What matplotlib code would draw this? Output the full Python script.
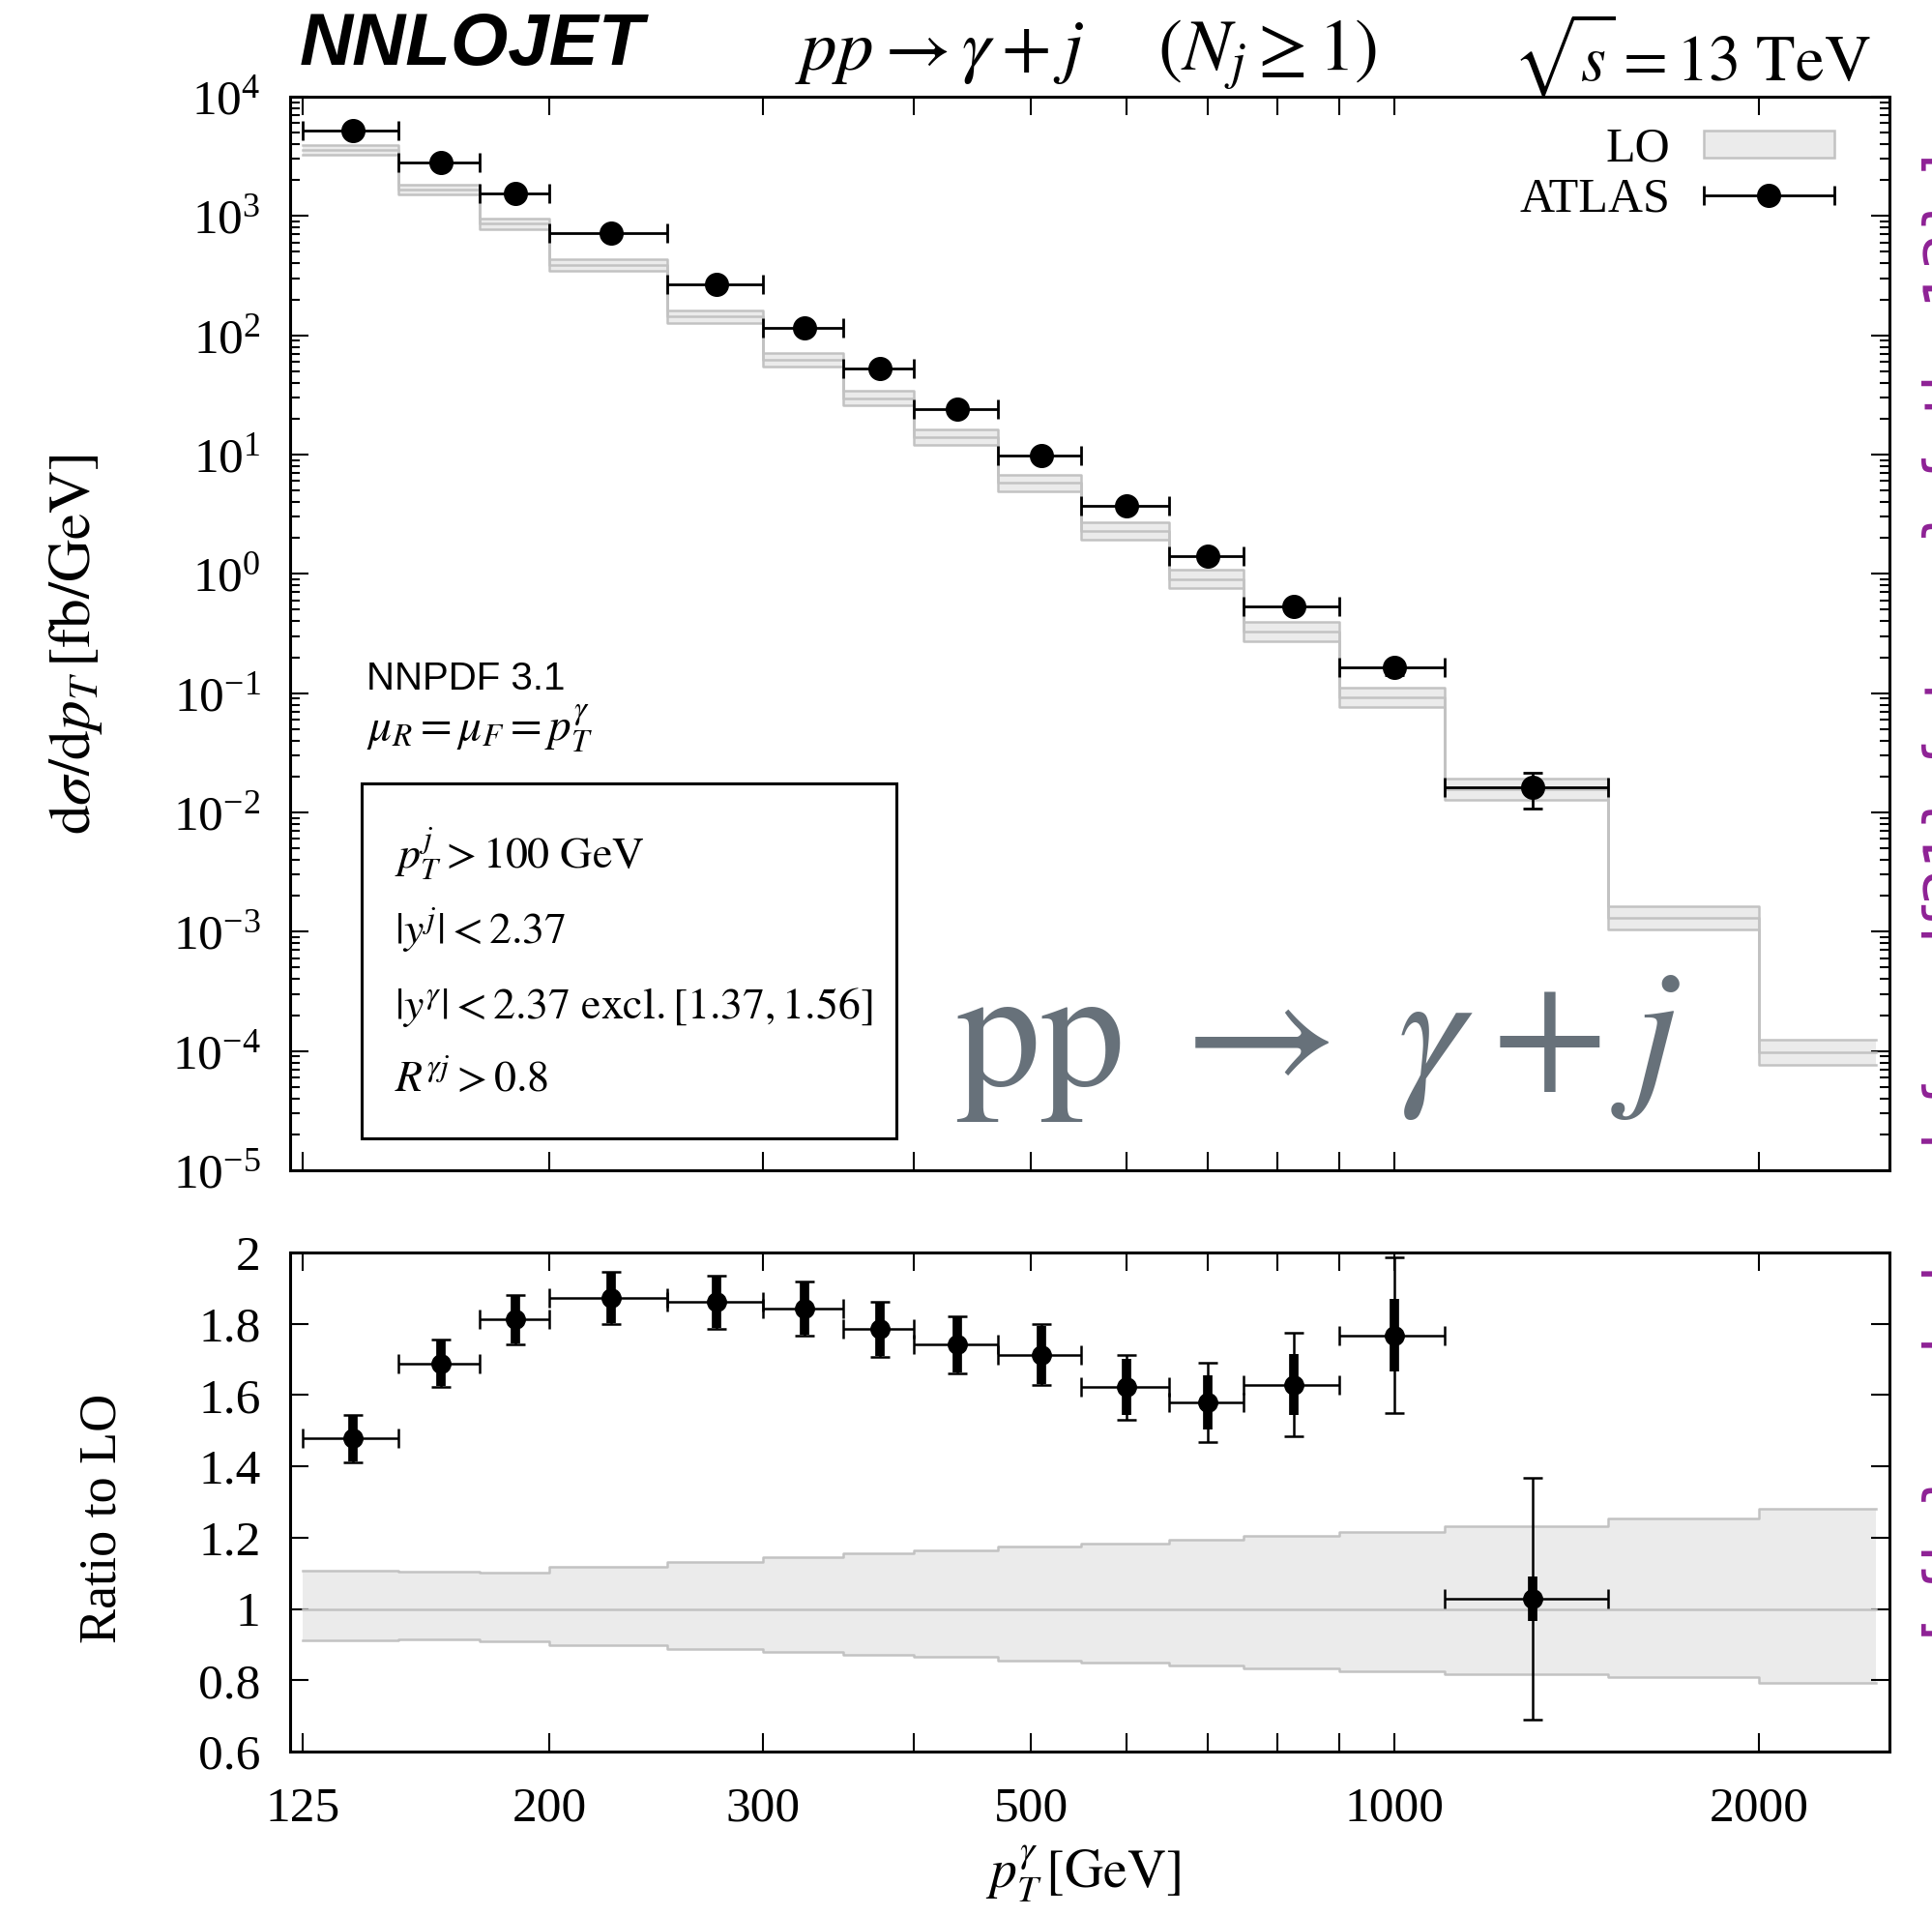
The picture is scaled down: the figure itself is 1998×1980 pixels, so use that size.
import numpy as np
import matplotlib
matplotlib.use("Agg")
import matplotlib.pyplot as plt
from matplotlib.patches import Patch, Rectangle
from matplotlib.legend_handler import HandlerErrorbar
from matplotlib.ticker import FixedLocator, FixedFormatter, LogLocator, NullFormatter, FuncFormatter, NullLocator

plt.rcParams['font.family'] = ['Liberation Serif', 'DejaVu Serif']
plt.rcParams['mathtext.fontset'] = 'stix'

# bins in pT(photon) [GeV]
bin_edges = [125, 150, 175, 200, 250, 300, 350, 400, 470, 550, 650, 750, 900, 1100, 1500, 2000, 2500]

# LO prediction (central) in fb/GeV and scale band as ratio to central
lo_central = [3550, 1658, 861, 387, 143.5, 62.4, 29.7, 13.9, 5.78, 2.28, 0.899, 0.329,
              0.0922, 0.01574, 1.30e-3, 9.7e-5]
lo_up = [1.108, 1.105, 1.102, 1.117, 1.133, 1.145, 1.156, 1.163, 1.174, 1.184, 1.195, 1.206,
         1.216, 1.232, 1.253, 1.280]
lo_down = [0.911, 0.914, 0.908, 0.898, 0.888, 0.880, 0.872, 0.865, 0.855, 0.849, 0.842, 0.834,
           0.826, 0.817, 0.809, 0.792]

# ATLAS data (first 14 bins), relative uncertainties in %
atlas_xsec = [5250, 2800, 1560, 725, 267, 115, 53, 24.2, 9.9, 3.7, 1.42, 0.536, 0.163, 0.0162]
atlas_tot = [4.5, 3.9, 3.8, 3.9, 4.0, 4.1, 4.3, 4.6, 5.0, 5.6, 7.0, 8.9, 12.3, 33.0]
atlas_sys = [4.4, 3.8, 3.7, 3.8, 3.9, 4.0, 4.2, 4.5, 4.8, 4.8, 4.8, 5.2, 5.8, 6.0]

xticks = [125, 200, 300, 400, 500, 600, 700, 800, 900, 1000, 2000]
xticklabels = ['125', '200', '300', '', '500', '', '', '', '', '1000', '2000']

band_fill = '#ebebeb'
band_line = '#c2c2c2'
purple = '#8e2195'

edges = np.array(bin_edges, dtype=float)
lo = np.array(lo_central)
up = lo * np.array(lo_up)
dn = lo * np.array(lo_down)
nd = len(atlas_xsec)
xc = 0.5 * (edges[:nd] + edges[1:nd + 1])
xerr = [xc - edges[:nd], edges[1:nd + 1] - xc]
data = np.array(atlas_xsec)
ratio = data / lo[:nd]
tot = np.array(atlas_tot) / 100.0
sys = np.array(atlas_sys) / 100.0


def stepvals(v):
    return np.append(v, v[-1])


W, H = 1999, 1980
fig = plt.figure(figsize=(W / 100, H / 100), dpi=100)
ax = fig.add_axes([300 / W, 1 - 1210 / H, 1654 / W, 1110 / H])
axr = fig.add_axes([300 / W, 1 - 1811 / H, 1654 / W, 516 / H])

# ---- main panel
ax.fill_between(edges, stepvals(dn), stepvals(up), step='post', color=band_fill, lw=0)
for v in (up, lo, dn):
    ax.step(edges, stepvals(v), where='post', color=band_line, lw=1.8)

ax.errorbar(xc, data, yerr=data * tot, fmt='none', ecolor='k', elinewidth=2,
            capsize=7, capthick=2)
eb = ax.errorbar(xc, data, xerr=xerr, fmt='o', color='k', ms=17, elinewidth=2,
                 capsize=7, capthick=2, label='ATLAS')

ax.set_yscale('log')
ax.set_ylim(1e-5, 1e4)
ax.yaxis.set_major_locator(LogLocator(base=10, numticks=20))
ax.yaxis.set_minor_locator(LogLocator(base=10, subs=np.arange(2, 10), numticks=200))
ax.yaxis.set_minor_formatter(NullFormatter())

# ---- ratio panel
rup = np.array(lo_up)
rdn = np.array(lo_down)
axr.fill_between(edges, stepvals(rdn), stepvals(rup), step='post', color=band_fill, lw=0)
for v in (rup, np.ones_like(rup), rdn):
    axr.step(edges, stepvals(v), where='post', color=band_line, lw=1.8)

axr.errorbar(xc, ratio, xerr=xerr, yerr=ratio * tot, fmt='none', ecolor='k',
             elinewidth=1.8, capsize=7, capthick=1.8)
axr.errorbar(xc, ratio, yerr=ratio * sys, fmt='o', color='k', ms=14, elinewidth=7,
             capsize=0)
axr.set_ylim(0.6, 2.0)
axr.yaxis.set_major_locator(FixedLocator(np.arange(0.6, 2.01, 0.2)))
axr.yaxis.set_major_formatter(FuncFormatter(lambda v, p: '%g' % round(v, 1)))

for a in (ax, axr):
    a.set_xscale('log')
    a.set_xlim(122, 2565)
    a.xaxis.set_major_locator(FixedLocator(xticks))
    a.xaxis.set_major_formatter(FixedFormatter(xticklabels))
    a.xaxis.set_minor_locator(NullLocator())
    a.tick_params(which='major', direction='in', top=True, right=True, length=14,
                  width=1.5, labelsize=37, pad=22)
    a.tick_params(which='minor', direction='in', top=True, right=True, length=7,
                  width=1.5)
    for s in a.spines.values():
        s.set_linewidth(2.2)
ax.tick_params(labelbottom=False)
axr.tick_params(axis='x', pad=26)

# legend
lo_patch = Patch(facecolor=band_fill, edgecolor=band_line, lw=1.8)
ax.legend([lo_patch, eb], ['LO', 'ATLAS'], loc='upper right', frameon=False,
          bbox_to_anchor=(0.9655, 0.972), borderaxespad=0, borderpad=0,
          markerfirst=False, fontsize=36, handlelength=2.7, handleheight=0.5,
          labelspacing=0.1, handletextpad=0.7,
          handler_map={eb: HandlerErrorbar(xerr_size=1.35)})

# annotations in the main panel
ax.text(0.0478, 0.4477, 'NNPDF 3.1', transform=ax.transAxes, family='Liberation Sans',
        fontsize=29, va='baseline')
ax.text(0.0478, 0.401, r'$\mu_R = \mu_F = p_T^\gamma$', transform=ax.transAxes,
        fontsize=34, va='baseline')
ax.add_patch(Rectangle((0.0447, 0.0297), 0.3344, 0.3307, transform=ax.transAxes,
                       fill=False, lw=2.2, ec='k'))
cuts = [r'$p_T^j > 100\ \mathrm{GeV}$', r'$|y^j| < 2.37$',
        r'$|y^\gamma| < 2.37\ \mathrm{excl.}[1.37, 1.56]$', r'$R^{\gamma j} > 0.8$']
for txt, yy in zip(cuts, [0.2811, 0.2117, 0.1414, 0.0739]):
    ax.text(0.0653, yy, txt, transform=ax.transAxes, fontsize=33, va='baseline')
ax.text(0.416, 0.0793, r'$\mathrm{pp}\;\rightarrow\;\gamma + j$', transform=ax.transAxes,
        fontsize=126, va='baseline', color='#67717a')

# header and axis labels
fig.text(310 / W, 1 - 48 / H, 'NNLOJET', family='Liberation Sans', weight='bold',
         style='italic', fontsize=55, va='center', ha='left')
fig.text(822 / W, 1 - 57 / H, r'$pp \rightarrow \gamma + j\quad\;\, (N_j \geq 1)$',
         fontsize=54, va='center', ha='left')
fig.text(1935 / W, 1 - 57 / H, r'$\sqrt{s} = 13\ \mathrm{TeV}$', fontsize=48,
         va='center', ha='right')
fig.text(79 / W, 1 - 666 / H, r'$\mathrm{d}\sigma/\mathrm{d}p_T\,[\mathrm{fb/GeV}]$',
         rotation=90, fontsize=44, va='center', ha='center')
fig.text(106 / W, 1 - 1570 / H, 'Ratio to LO', rotation=90, fontsize=39,
         va='center', ha='center')
fig.text(1120 / W, 1 - 1938 / H, r'$p_T^\gamma\,[\mathrm{GeV}]$', fontsize=40,
         va='center', ha='center')

# run tag on the right edge, mostly outside the canvas
fig.text(1988 / W, 1 - 1696 / H,
         '[ {lo} scale band {nnpdf31} {ptgam} {atlas13} ]',
         rotation=90, rotation_mode='anchor', ha='left', va='top',
         family='DejaVu Sans', fontsize=44, color=purple)

fig.savefig('out.png', dpi=100)
